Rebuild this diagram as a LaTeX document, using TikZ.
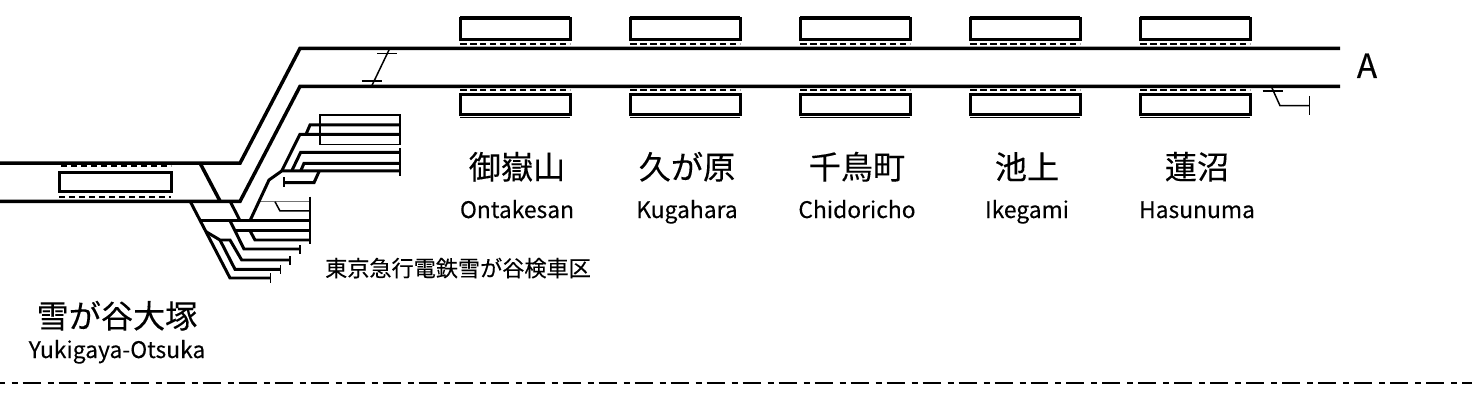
\documentclass[tikz,border=0pt]{standalone}
\usepackage{fontspec}
\setmainfont{Noto Sans CJK JP}[FakeBold=0.2]
\begin{document}
\begin{tikzpicture}[
      x=0.02cm, y=-0.02cm,
      track/.style={line width=0.07cm},
      yard/.style={line width=0.06cm},
      thin track/.style={line width=0.03cm},
      platform/.style={line width=0.06cm},
      platedge/.style={line width=0.04cm, dash pattern=on 0.13cm off 0.07cm},
      border/.style={line width=0.04cm, dash pattern=on 0.36cm off 0.14cm on 0.12cm off 0.10cm, dash phase=0.266cm},
      janame/.style={font=\fontsize{18.3}{20}\selectfont, inner sep=0pt, anchor=base},
      enname/.style={font=\fontsize{13}{14}\selectfont, inner sep=0pt, anchor=base},
      depot/.style={font=\fontsize{12.6}{14}\selectfont, inner sep=0pt, anchor=base}
  ]
  \useasboundingbox (0,0) rectangle (1472,402);
  % main line
  \draw[track] (1340,48.4) -- (300,48.4) -- (240,163.2) -- (0,163.2);
  \draw[track] (1340,86.4) -- (300,86.4) -- (240,201.4) -- (0,201.4);
  \draw[track] (200,163) -- (220,201);
  % lower yard
  \draw[yard] (190,201) -- (230,278) -- (270.7,278);
  \draw[yard] (230,201) -- (240,220.7);
  \draw[yard] (200,220.7) -- (310,220.7);
  \draw[yard] (230,220.7) -- (244,249) -- (300,249);
  \draw[yard] (235,230.7) -- (310,230.7);
  \draw[yard] (250,230.7) -- (255,240) -- (310,240);
  \draw[yard] (206,231.7) -- (220,240) -- (230,240) -- (241.7,260) -- (290,260);
  \draw[yard] (220,240) -- (235,269.3) -- (280.7,269.3);
  \draw[thin track, black!55] (260,201.7) -- (310,201.7);
  \draw[thin track] (275,201.7) -- (280,211) -- (310,211);
  \draw[thin track] (310,196.7) -- (310,244);
  \draw[thin track] (300,245) -- (300,254);
  \draw[thin track] (290,256) -- (290,265);
  \draw[thin track] (280.7,265) -- (280.7,274);
  \draw[thin track] (270.7,273) -- (270.7,283);
  % upper yard
  \draw[yard] (250,220.7) -- (269,180) -- (281.7,171) -- (400,171);
  \draw[yard] (281.7,171) -- (300,134.3) -- (400,134.3);
  \draw[yard] (306,134.3) -- (310,125) -- (400,125);
  \draw[yard] (291.7,171) -- (300.7,152.3) -- (400,152.3);
  \draw[yard] (300.7,171) -- (304,163.3) -- (400,163.3);
  \draw[yard] (319.3,171) -- (314,182.7) -- (284,182.7);
  \draw[thin track] (284,177) -- (284,187);
  \draw[thin track] (400,148) -- (400,176);
  \draw[thin track] (320,115) rectangle (400,144.3);
  % crossover and siding
  \draw[thin track] (389.3,49.3) -- (371.7,86);
  \draw[thin track] (377,53.3) -- (397,53.3);
  \draw[thin track] (361.7,81) -- (381.7,81);
  \draw[thin track] (1262.7,91) -- (1282.7,91);
  \draw[thin track] (1271.7,87.3) -- (1280,105.7) -- (1309.7,105.7);
  \draw[thin track] (1309.7,96) -- (1309.7,115);
  % stations
  \foreach \px/\jatext/\entext in {460/御嶽山/Ontakesan, 630/久が原/Kugahara, 800/千鳥町/Chidoricho,
      970/池上/Ikegami, 1140/蓮沼/Hasunuma}{
    \draw[platform] (\px,19) rectangle ++(110,20.3);
    \draw[thin track] (\px,16.7) -- ++(110,0);
    \draw[platedge] (\px,44) -- ++(110,0);
    \draw[platedge] (\px,90.3) -- ++(110,0);
    \draw[platform] (\px,94.3) rectangle ++(110,20.7);
    \draw[thin track] (\px,117.3) -- ++(110,0);
    \node[janame] (ja\px) at (\px+57,179) {\jatext};
    \node[enname] (en\px) at (\px+57,218) {\entext};
  }
  \draw[platform] (59.5,172.7) rectangle (171,191.7);
  \draw[platedge] (61,166) -- (171,166);
  \draw[platedge] (59,197.3) -- (171,197.3);
  \node[janame] (ootsukaja) at (117,328) {雪が谷大塚};
  \node[enname] (ootsukaen) at (117,358) {Yukigaya-Otsuka};
  \node[depot] (depotname) at (458,276.5) {東京急行電鉄雪が谷検車区};
  \node[font=\fontsize{19}{20}\selectfont, inner sep=0pt, anchor=base] (linea) at (1367,78) {A};
  % edge of the map
  \draw[border] (0,382.7) -- (1472,382.7);
\end{tikzpicture}
\end{document}
